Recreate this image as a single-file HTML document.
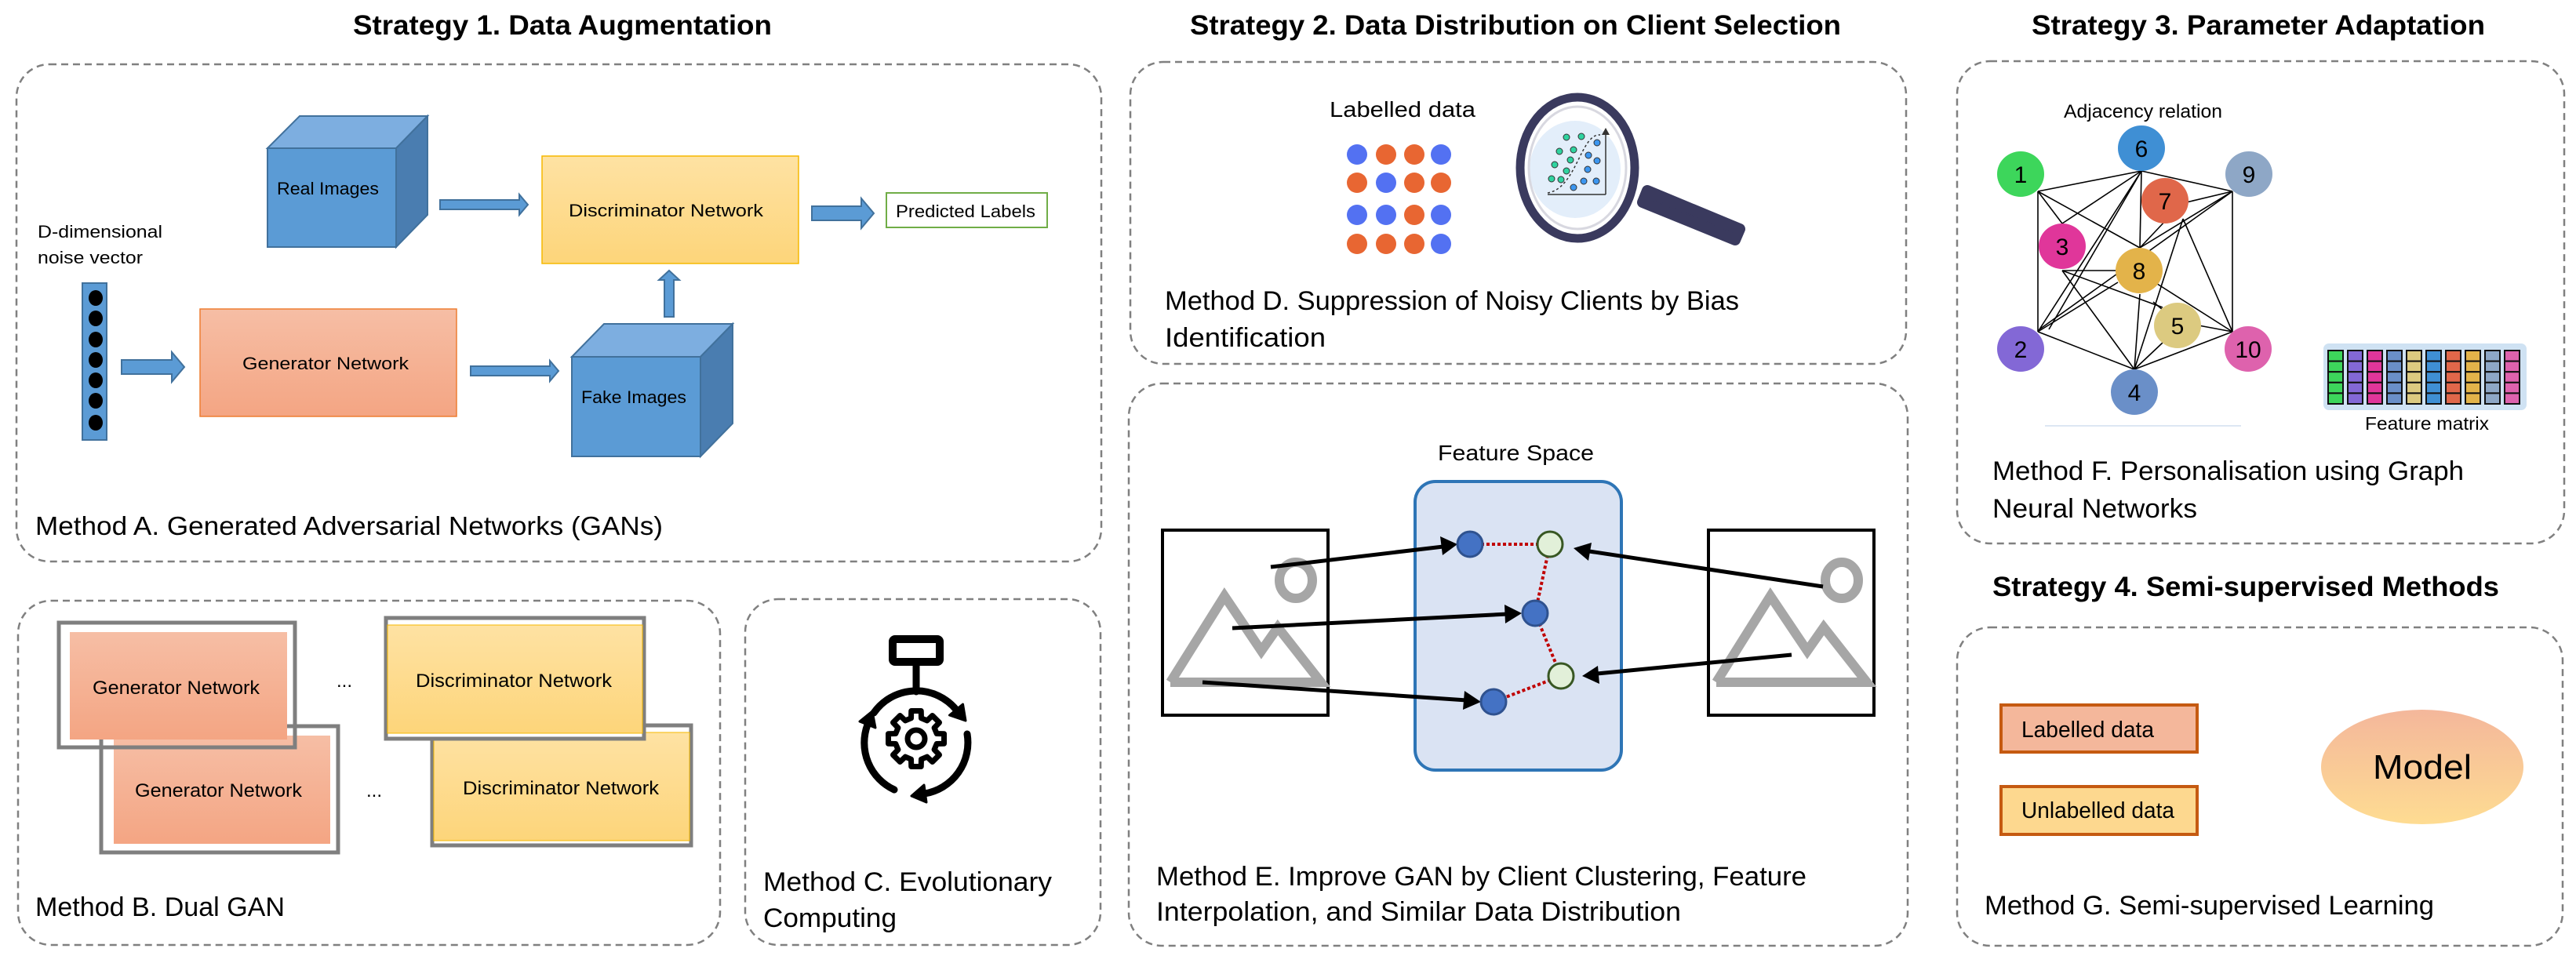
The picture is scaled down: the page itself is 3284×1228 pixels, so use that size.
<!DOCTYPE html>
<html><head><meta charset="utf-8"><style>html,body{margin:0;padding:0;background:#fff}svg{display:block}</style></head>
<body>
<svg width="3284" height="1228" viewBox="0 0 3284 1228" xmlns="http://www.w3.org/2000/svg" font-family="Liberation Sans, sans-serif">
<defs>
<linearGradient id="gy" x1="0" y1="0" x2="0" y2="1"><stop offset="0" stop-color="#fee2a3"/><stop offset="1" stop-color="#fdd57a"/></linearGradient>
<linearGradient id="go" x1="0" y1="0" x2="0" y2="1"><stop offset="0" stop-color="#f6bea5"/><stop offset="1" stop-color="#f4a583"/></linearGradient>
<linearGradient id="gm" x1="0" y1="0" x2="0" y2="1"><stop offset="0" stop-color="#f4b79b"/><stop offset="1" stop-color="#fedc92"/></linearGradient>
</defs>

<g font-weight="bold" font-size="35" fill="#000">
<text x="450" y="44" textLength="534" lengthAdjust="spacingAndGlyphs">Strategy 1. Data Augmentation</text>
<text x="1517" y="44" textLength="830" lengthAdjust="spacingAndGlyphs">Strategy 2. Data Distribution on Client Selection</text>
<text x="2590" y="44" textLength="578" lengthAdjust="spacingAndGlyphs">Strategy 3. Parameter Adaptation</text>
<text x="2540" y="760" textLength="646" lengthAdjust="spacingAndGlyphs">Strategy 4. Semi-supervised Methods</text>
</g>

<g fill="none" stroke="#808080" stroke-width="2.5" stroke-dasharray="9 6">
<rect x="21" y="82" width="1383" height="634" rx="42"/>
<rect x="23" y="766" width="895" height="439" rx="42"/>
<rect x="950" y="764" width="453" height="441" rx="42"/>
<rect x="1441" y="79" width="989" height="385" rx="42"/>
<rect x="1439" y="489" width="993" height="717" rx="42"/>
<rect x="2495" y="78" width="774" height="615" rx="42"/>
<rect x="2495" y="800" width="772" height="406" rx="42"/>
</g>

<!-- Method A -->
<g stroke="#41719c" stroke-width="2">
<polygon points="341,189 382,148 545,148 505,189" fill="#7daee0"/>
<polygon points="505,189 545,148 545,274 505,315" fill="#4a7db0"/>
<rect x="341" y="189" width="164" height="126" fill="#5b9bd5"/>
<polygon points="729,455 770,413 934,413 893,455" fill="#7daee0"/>
<polygon points="893,455 934,413 934,540 893,582" fill="#4a7db0"/>
<rect x="729" y="455" width="164" height="127" fill="#5b9bd5"/>
<polygon points="561,255 662,255 662,248 673,261 662,274 662,267 561,267" fill="#5b9bd5"/>
<polygon points="1035,263 1098,263 1098,253 1114,272 1098,291 1098,281 1035,281" fill="#5b9bd5"/>
<polygon points="155,459 219,459 219,449 235,468 219,487 219,477 155,477" fill="#5b9bd5"/>
<polygon points="600,467 701,467 701,460 712,473 701,486 701,479 600,479" fill="#5b9bd5"/>
<polygon points="847,404 847,357 840,357 853,345 866,357 859,357 859,404" fill="#5b9bd5"/>
<rect x="105" y="361" width="31" height="200" fill="#5b9bd5"/>
</g>
<g fill="#000">
<ellipse cx="122" cy="380" rx="9" ry="10"/><ellipse cx="122" cy="406" rx="9" ry="10"/><ellipse cx="122" cy="433" rx="9" ry="10"/><ellipse cx="122" cy="459" rx="9" ry="10"/><ellipse cx="122" cy="485" rx="9" ry="10"/><ellipse cx="122" cy="511" rx="9" ry="10"/><ellipse cx="122" cy="539" rx="9" ry="10"/>
</g>
<rect x="691" y="199" width="327" height="137" fill="url(#gy)" stroke="#f5b800" stroke-width="1.5"/>
<rect x="255" y="394" width="327" height="137" fill="url(#go)" stroke="#ed7d31" stroke-width="1.5"/>
<rect x="1130" y="246" width="205" height="44" fill="#fff" stroke="#70ad47" stroke-width="2"/>
<g font-size="22" fill="#000">
<text x="353" y="248" textLength="130" lengthAdjust="spacingAndGlyphs">Real Images</text>
<text x="741" y="514" textLength="134" lengthAdjust="spacingAndGlyphs">Fake Images</text>
<text x="725" y="276" textLength="248" lengthAdjust="spacingAndGlyphs">Discriminator Network</text>
<text x="309" y="471" textLength="212" lengthAdjust="spacingAndGlyphs">Generator Network</text>
<text x="1142" y="277" textLength="178" lengthAdjust="spacingAndGlyphs">Predicted Labels</text>
<text x="48" y="303" textLength="159" lengthAdjust="spacingAndGlyphs">D-dimensional</text>
<text x="48" y="336" textLength="134" lengthAdjust="spacingAndGlyphs">noise vector</text>
</g>
<text x="45" y="682" font-size="33" textLength="800" lengthAdjust="spacingAndGlyphs">Method A. Generated Adversarial Networks (GANs)</text>

<!-- Method B -->
<rect x="129" y="926" width="302" height="161" fill="#fff" stroke="#7f7f7f" stroke-width="5"/>
<rect x="145" y="938" width="276" height="138" fill="url(#go)"/>
<rect x="75" y="794" width="301" height="159" fill="none" stroke="#7f7f7f" stroke-width="5"/>
<rect x="89" y="806" width="277" height="137" fill="url(#go)"/>
<rect x="551" y="925" width="330" height="153" fill="#fff" stroke="#7f7f7f" stroke-width="5"/>
<rect x="553" y="934" width="326" height="138" fill="url(#gy)" stroke="#f5b800" stroke-width="1"/>
<rect x="492" y="788" width="329" height="154" fill="#fff" stroke="#7f7f7f" stroke-width="5"/>
<rect x="494" y="797" width="325" height="138" fill="url(#gy)" stroke="#f5b800" stroke-width="1"/>
<g font-size="24" fill="#000">
<text x="118" y="885" textLength="213" lengthAdjust="spacingAndGlyphs">Generator Network</text>
<text x="172" y="1016" textLength="213" lengthAdjust="spacingAndGlyphs">Generator Network</text>
<text x="530" y="876" textLength="250" lengthAdjust="spacingAndGlyphs">Discriminator Network</text>
<text x="590" y="1013" textLength="250" lengthAdjust="spacingAndGlyphs">Discriminator Network</text>
<text x="429" y="876">...</text>
<text x="467" y="1016">...</text>
</g>
<text x="45" y="1168" font-size="34" textLength="318" lengthAdjust="spacingAndGlyphs">Method B. Dual GAN</text>

<!-- Method C -->
<g stroke="#000" fill="none" stroke-linecap="round" stroke-linejoin="round">
<rect x="1138" y="815" width="60" height="29" stroke-width="10" rx="3"/>
<line x1="1168" y1="849" x2="1168" y2="882" stroke-width="9"/>
<path d="M1114 909 A66 66 0 0 1 1219 905" stroke-width="9"/>
<path d="M1233 936 A66 66 0 0 1 1179 1012" stroke-width="9"/>
<path d="M1140 1007 A66 66 0 0 1 1106 924" stroke-width="9"/>
<polygon stroke-width="7" points="1194.2,935.5 1203.5,935.75 1203.5,948.25 1194.2,948.5 1191.1,955.9 1197.5,962.6 1188.6,971.5 1181.9,965.1 1174.5,968.2 1174.25,977.5 1161.75,977.5 1161.5,968.2 1154.1,965.1 1147.4,971.5 1138.5,962.6 1144.9,955.9 1141.8,948.5 1132.5,948.25 1132.5,935.75 1141.8,935.5 1144.9,928.1 1138.5,921.4 1147.4,912.5 1154.1,918.9 1161.5,915.8 1161.75,906.5 1174.25,906.5 1174.5,915.8 1181.9,918.9 1188.6,912.5 1197.5,921.4 1191.1,928.1"/>
<circle cx="1168" cy="942" r="11" stroke-width="7"/>
</g>
<g fill="#000" stroke="#000" stroke-width="3" stroke-linejoin="round">
<polygon points="1231,919 1227.5,898 1210.5,912"/>
<polygon points="1162,1015 1181,1023 1178,1001"/>
<polygon points="1112,907 1096,920 1116,928"/>
</g>
<g font-size="34" fill="#000">
<text x="973" y="1136" textLength="368" lengthAdjust="spacingAndGlyphs">Method C. Evolutionary</text>
<text x="973" y="1182" textLength="170" lengthAdjust="spacingAndGlyphs">Computing</text>
</g>

<!-- Method D -->
<text x="1695" y="149" font-size="28" textLength="186" lengthAdjust="spacingAndGlyphs">Labelled data</text>
<g>
<circle cx="1730" cy="197" r="13" fill="#5371f2"/><circle cx="1767" cy="197" r="13" fill="#e86632"/><circle cx="1803" cy="197" r="13" fill="#e86632"/><circle cx="1837" cy="197" r="13" fill="#5371f2"/>
<circle cx="1730" cy="233" r="13" fill="#e86632"/><circle cx="1767" cy="233" r="13" fill="#5371f2"/><circle cx="1803" cy="233" r="13" fill="#e86632"/><circle cx="1837" cy="233" r="13" fill="#e86632"/>
<circle cx="1730" cy="274" r="13" fill="#5371f2"/><circle cx="1767" cy="274" r="13" fill="#5371f2"/><circle cx="1803" cy="274" r="13" fill="#e86632"/><circle cx="1837" cy="274" r="13" fill="#5371f2"/>
<circle cx="1730" cy="311" r="13" fill="#e86632"/><circle cx="1767" cy="311" r="13" fill="#e86632"/><circle cx="1803" cy="311" r="13" fill="#e86632"/><circle cx="1837" cy="311" r="13" fill="#5371f2"/>
</g>
<path d="M2100 243 L2218 292 L2212 306 L2094 258 Z" fill="#3a3a5e" stroke="#3a3a5e" stroke-width="14" stroke-linejoin="round"/>
<ellipse cx="2011" cy="214" rx="68" ry="85" fill="#fff"/>
<ellipse cx="2008" cy="216" rx="58" ry="62" fill="#e3eefa"/>
<ellipse cx="2011" cy="214" rx="62" ry="78" fill="none" stroke="#d8d8e0" stroke-width="3"/>
<ellipse cx="2011" cy="214" rx="73" ry="90" fill="none" stroke="#3a3a5e" stroke-width="11"/>
<g stroke="#333" stroke-width="1.5" fill="none">
<line x1="1973" y1="248" x2="2047" y2="248"/><line x1="2047" y1="248" x2="2047" y2="167"/>
<path d="M1973 246 C2010 240 2015 170 2040 172" stroke-dasharray="3 3"/>
</g>
<polygon points="2047,163 2042,172 2052,172" fill="#333"/>
<g fill="#2fd3a0" stroke="#333" stroke-width="1"><circle cx="1997" cy="175" r="4"/><circle cx="2016" cy="174" r="4"/><circle cx="1988" cy="193" r="4"/><circle cx="2006" cy="191" r="4"/><circle cx="2002" cy="204" r="4"/><circle cx="1982" cy="210" r="4"/><circle cx="1997" cy="218" r="4"/><circle cx="1978" cy="228" r="4"/><circle cx="1990" cy="229" r="4"/></g>
<g fill="#3c96f0" stroke="#333" stroke-width="1"><circle cx="2036" cy="182" r="4"/><circle cx="2025" cy="198" r="4"/><circle cx="2036" cy="205" r="4"/><circle cx="2024" cy="216" r="4"/><circle cx="2019" cy="231" r="4"/><circle cx="2035" cy="231" r="4"/><circle cx="2006" cy="239" r="4"/></g>
<g font-size="34" fill="#000">
<text x="1485" y="395" textLength="732" lengthAdjust="spacingAndGlyphs">Method D. Suppression of Noisy Clients by Bias</text>
<text x="1485" y="442" textLength="205" lengthAdjust="spacingAndGlyphs">Identification</text>
</g>

<!-- Method E -->
<text x="1833" y="587" font-size="28" textLength="199" lengthAdjust="spacingAndGlyphs">Feature Space</text>
<rect x="1804" y="614" width="263" height="368" rx="26" fill="#dae3f3" stroke="#2e75b6" stroke-width="4"/>
<rect x="1482" y="676" width="211" height="236" fill="none" stroke="#000" stroke-width="4"/>
<rect x="2178" y="676" width="211" height="236" fill="none" stroke="#000" stroke-width="4"/>
<g fill="none" stroke="#a6a6a6" stroke-width="12" stroke-linejoin="miter">
<polyline points="1492,870 1561,760 1608,830 1629,800 1684,870 1492,870"/>
<ellipse cx="1652" cy="740" rx="21" ry="23"/>
<polyline points="2188,870 2257,760 2304,830 2325,800 2380,870 2188,870"/>
<ellipse cx="2348" cy="740" rx="21" ry="23"/>
</g>
<g stroke="#c00000" stroke-width="4" stroke-dasharray="4 3" fill="none">
<line x1="1874" y1="694" x2="1976" y2="694"/><line x1="1976" y1="694" x2="1957" y2="782"/><line x1="1957" y1="782" x2="1990" y2="862"/><line x1="1990" y1="862" x2="1904" y2="895"/>
</g>
<g stroke="#000" stroke-width="5">
<line x1="1620" y1="723" x2="1840" y2="697"/>
<line x1="1571" y1="801" x2="1922" y2="783"/>
<line x1="1533" y1="870" x2="1870" y2="893"/>
<line x1="2324" y1="748" x2="2026" y2="703"/>
<line x1="2284" y1="835" x2="2036" y2="859"/>
</g>
<g fill="#000">
<polygon points="1858,694 1836,684 1839,708"/>
<polygon points="1940,782 1918,771 1919,795"/>
<polygon points="1888,895 1867,881 1865,905"/>
<polygon points="2006,699 2029,692 2025,715"/>
<polygon points="2017,862 2037,849 2039,872"/>
</g>
<g stroke-width="3">
<circle cx="1874" cy="694" r="16" fill="#4472c4" stroke="#2f528f"/>
<circle cx="1957" cy="782" r="16" fill="#4472c4" stroke="#2f528f"/>
<circle cx="1904" cy="895" r="16" fill="#4472c4" stroke="#2f528f"/>
<circle cx="1976" cy="694" r="16" fill="#e2f0d9" stroke="#385723"/>
<circle cx="1990" cy="862" r="16" fill="#e2f0d9" stroke="#385723"/>
</g>
<g font-size="34" fill="#000">
<text x="1474" y="1129" textLength="829" lengthAdjust="spacingAndGlyphs">Method E. Improve GAN by Client Clustering, Feature</text>
<text x="1474" y="1174" textLength="669" lengthAdjust="spacingAndGlyphs">Interpolation, and Similar Data Distribution</text>
</g>

<!-- Method F -->
<text x="2631" y="150" font-size="24" textLength="202" lengthAdjust="spacingAndGlyphs">Adjacency relation</text>
<g stroke="#000" stroke-width="1.6">
<line x1="2598" y1="244" x2="2730" y2="218"/><line x1="2730" y1="218" x2="2846" y2="244"/>
<line x1="2598" y1="244" x2="2598" y2="423"/><line x1="2846" y1="244" x2="2846" y2="423"/>
<line x1="2598" y1="423" x2="2721" y2="471"/><line x1="2721" y1="471" x2="2846" y2="423"/>
<line x1="2598" y1="244" x2="2728" y2="316"/><line x1="2598" y1="244" x2="2629" y2="285"/>
<line x1="2730" y1="218" x2="2629" y2="285"/><line x1="2730" y1="218" x2="2598" y2="423"/>
<line x1="2730" y1="218" x2="2728" y2="316"/><line x1="2730" y1="218" x2="2612" y2="420"/>
<line x1="2846" y1="244" x2="2783" y2="259"/><line x1="2846" y1="244" x2="2728" y2="316"/>
<line x1="2846" y1="244" x2="2600" y2="420"/><line x1="2783" y1="279" x2="2846" y2="423"/>
<line x1="2783" y1="279" x2="2721" y2="471"/><line x1="2762" y1="280" x2="2728" y2="316"/>
<line x1="2629" y1="345" x2="2757" y2="392"/><line x1="2629" y1="345" x2="2721" y2="471"/>
<line x1="2629" y1="345" x2="2708" y2="345"/><line x1="2700" y1="360" x2="2598" y2="423"/>
<line x1="2747" y1="360" x2="2846" y2="423"/><line x1="2728" y1="375" x2="2721" y2="471"/>
<line x1="2757" y1="437" x2="2721" y2="471"/><line x1="2803" y1="415" x2="2846" y2="423"/>
<line x1="2745" y1="385" x2="2757" y2="395"/>
</g>
<g>
<ellipse cx="2730" cy="189" rx="30" ry="29" fill="#3f8fd4"/>
<ellipse cx="2576" cy="222" rx="30" ry="29" fill="#3dd65b"/>
<ellipse cx="2867" cy="222" rx="30" ry="29" fill="#8ea7c6"/>
<ellipse cx="2760" cy="256" rx="30" ry="29" fill="#e0674a"/>
<ellipse cx="2629" cy="314" rx="30" ry="29" fill="#e0369a"/>
<ellipse cx="2727" cy="345" rx="30" ry="29" fill="#e3b34a"/>
<ellipse cx="2776" cy="415" rx="30" ry="29" fill="#dcca80"/>
<ellipse cx="2576" cy="445" rx="30" ry="29" fill="#8368d6"/>
<ellipse cx="2866" cy="445" rx="30" ry="29" fill="#de62ad"/>
<ellipse cx="2721" cy="500" rx="30" ry="29" fill="#6a8fc8"/>
</g>
<g font-size="30" fill="#000" text-anchor="middle">
<text x="2730" y="200">6</text><text x="2576" y="233">1</text><text x="2867" y="233">9</text><text x="2760" y="267">7</text><text x="2629" y="325">3</text><text x="2727" y="356">8</text><text x="2776" y="426">5</text><text x="2576" y="456">2</text><text x="2866" y="456">10</text><text x="2721" y="511">4</text>
</g>
<line x1="2607" y1="543" x2="2857" y2="543" stroke="#dde7f3" stroke-width="2"/>
<rect x="2962" y="438" width="259" height="85" rx="7" fill="#cfe2f3"/>
<g stroke="#111" stroke-width="2">
<g fill="#3dd65b"><rect x="2968" y="447" width="19" height="13.6"/><rect x="2968" y="460.6" width="19" height="13.6"/><rect x="2968" y="474.2" width="19" height="13.6"/><rect x="2968" y="487.8" width="19" height="13.6"/><rect x="2968" y="501.4" width="19" height="13.6"/></g>
<g fill="#8368d6"><rect x="2993" y="447" width="19" height="13.6"/><rect x="2993" y="460.6" width="19" height="13.6"/><rect x="2993" y="474.2" width="19" height="13.6"/><rect x="2993" y="487.8" width="19" height="13.6"/><rect x="2993" y="501.4" width="19" height="13.6"/></g>
<g fill="#e0369a"><rect x="3018" y="447" width="19" height="13.6"/><rect x="3018" y="460.6" width="19" height="13.6"/><rect x="3018" y="474.2" width="19" height="13.6"/><rect x="3018" y="487.8" width="19" height="13.6"/><rect x="3018" y="501.4" width="19" height="13.6"/></g>
<g fill="#6a8fc8"><rect x="3043" y="447" width="19" height="13.6"/><rect x="3043" y="460.6" width="19" height="13.6"/><rect x="3043" y="474.2" width="19" height="13.6"/><rect x="3043" y="487.8" width="19" height="13.6"/><rect x="3043" y="501.4" width="19" height="13.6"/></g>
<g fill="#dcca80"><rect x="3068" y="447" width="19" height="13.6"/><rect x="3068" y="460.6" width="19" height="13.6"/><rect x="3068" y="474.2" width="19" height="13.6"/><rect x="3068" y="487.8" width="19" height="13.6"/><rect x="3068" y="501.4" width="19" height="13.6"/></g>
<g fill="#3f8fd4"><rect x="3093" y="447" width="19" height="13.6"/><rect x="3093" y="460.6" width="19" height="13.6"/><rect x="3093" y="474.2" width="19" height="13.6"/><rect x="3093" y="487.8" width="19" height="13.6"/><rect x="3093" y="501.4" width="19" height="13.6"/></g>
<g fill="#e0674a"><rect x="3118" y="447" width="19" height="13.6"/><rect x="3118" y="460.6" width="19" height="13.6"/><rect x="3118" y="474.2" width="19" height="13.6"/><rect x="3118" y="487.8" width="19" height="13.6"/><rect x="3118" y="501.4" width="19" height="13.6"/></g>
<g fill="#e3b34a"><rect x="3143" y="447" width="19" height="13.6"/><rect x="3143" y="460.6" width="19" height="13.6"/><rect x="3143" y="474.2" width="19" height="13.6"/><rect x="3143" y="487.8" width="19" height="13.6"/><rect x="3143" y="501.4" width="19" height="13.6"/></g>
<g fill="#8ea7c6"><rect x="3168" y="447" width="19" height="13.6"/><rect x="3168" y="460.6" width="19" height="13.6"/><rect x="3168" y="474.2" width="19" height="13.6"/><rect x="3168" y="487.8" width="19" height="13.6"/><rect x="3168" y="501.4" width="19" height="13.6"/></g>
<g fill="#de62ad"><rect x="3193" y="447" width="19" height="13.6"/><rect x="3193" y="460.6" width="19" height="13.6"/><rect x="3193" y="474.2" width="19" height="13.6"/><rect x="3193" y="487.8" width="19" height="13.6"/><rect x="3193" y="501.4" width="19" height="13.6"/></g>
</g>
<text x="3094" y="548" font-size="23" text-anchor="middle" textLength="158" lengthAdjust="spacingAndGlyphs">Feature matrix</text>
<g font-size="34" fill="#000">
<text x="2540" y="612" textLength="601" lengthAdjust="spacingAndGlyphs">Method F. Personalisation using Graph</text>
<text x="2540" y="660" textLength="261" lengthAdjust="spacingAndGlyphs">Neural Networks</text>
</g>

<!-- Method G -->
<rect x="2551" y="899" width="250" height="60" fill="#f4b79b" stroke="#c55a11" stroke-width="4"/>
<rect x="2551" y="1003" width="250" height="61" fill="#fdd88f" stroke="#c55a11" stroke-width="4"/>
<g font-size="29" fill="#000">
<text x="2577" y="940" textLength="169" lengthAdjust="spacingAndGlyphs">Labelled data</text>
<text x="2577" y="1043" textLength="195" lengthAdjust="spacingAndGlyphs">Unlabelled data</text>
</g>
<ellipse cx="3088" cy="978" rx="129" ry="73" fill="url(#gm)"/>
<text x="3088" y="993" font-size="44" text-anchor="middle" textLength="126" lengthAdjust="spacingAndGlyphs">Model</text>
<text x="2530" y="1166" font-size="34" textLength="573" lengthAdjust="spacingAndGlyphs">Method G. Semi-supervised Learning</text>
</svg>
</body></html>
